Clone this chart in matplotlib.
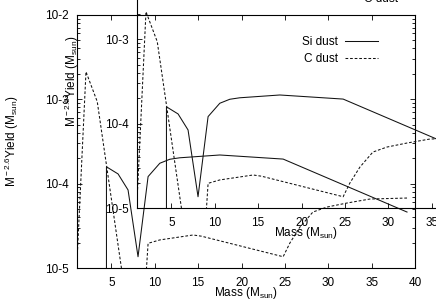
import matplotlib
matplotlib.use("Agg")
import matplotlib.pyplot as plt
from matplotlib.ticker import LogLocator, NullFormatter

# Si dust (solid)
si_mass = [4.43, 4.43, 5.77, 6.92, 8.07, 9.23, 10.58, 11.73, 12.88, 17.50, 20.58, 24.80, 39.08]
si_yield = [1e-7, 1.58e-4, 1.30e-4, 8.4e-5, 1.36e-5, 1.21e-4, 1.74e-4, 1.94e-4,
            2.02e-4, 2.18e-4, 2.08e-4, 1.95e-4, 4.6e-5]

# C dust (dashed)
c_mass = [1.0, 2.07, 3.37, 4.43, 5.77, 6.92, 8.07, 9.23, 10.58, 14.42, 15.39,
          24.80, 25.58, 26.73, 28.23, 29.85, 32.15, 34.81, 39.08]
c_yield = [1.0e-5, 2.11e-3, 9.33e-4, 1.66e-4, 1.87e-5, 2.9e-6, 2.8e-7, 1.96e-5, 2.15e-5,
           2.46e-5, 2.38e-5, 1.36e-5, 1.98e-5, 3.05e-5, 4.60e-5, 5.27e-5, 5.88e-5,
           6.56e-5, 6.74e-5]

xticks = [5, 10, 15, 20, 25, 30, 35, 40]
yticks = [1e-5, 1e-4, 1e-3, 1e-2]
ytick_labels = ["10-5", "10-4", "10-3", "10-2"]

plt.rcParams["font.family"] = "Liberation Sans"
plt.rcParams["mathtext.fontset"] = "custom"
plt.rcParams["mathtext.rm"] = "Liberation Sans"
plt.rcParams["mathtext.it"] = "Liberation Sans:italic"
plt.rcParams["mathtext.bf"] = "Liberation Sans:bold"

W, H = 436, 305
fs = 8.5
fig = plt.figure(figsize=(W / 100, H / 100), dpi=100)


def panel(ax):
    ax.plot(si_mass, si_yield, color="#111111", lw=0.75, label="Si dust")
    ax.plot(c_mass, c_yield, color="#111111", lw=0.75, ls=(0, (2.6, 1.8)), label="C dust")
    ax.set_yscale("log")
    ax.set_xlim(1, 40)
    ax.set_ylim(1e-5, 1e-2)
    ax.set_xticks(xticks)
    ax.set_xticklabels([str(t) for t in xticks])
    ax.set_yticks(yticks)
    ax.set_yticklabels(ytick_labels)
    ax.yaxis.set_minor_locator(LogLocator(base=10, subs=range(2, 10)))
    ax.yaxis.set_minor_formatter(NullFormatter())
    ax.tick_params(which="both", direction="in", top=True, right=True, width=0.6,
                   labelsize=fs)
    ax.tick_params(which="major", length=3.6)
    ax.tick_params(which="minor", length=2.0)
    ax.tick_params(axis="x", pad=6.5)
    ax.tick_params(axis="y", pad=6.0)
    for s in ax.spines.values():
        s.set_linewidth(0.8)
    ax.set_xlabel(r"Mass (M$_{\rm sun}$)", fontsize=fs)
    ax.set_ylabel(r"M$^{\rm -2.6}$Yield (M$_{\rm sun}$)", fontsize=fs)
    ax.xaxis.set_label_coords(0.5, -0.067)
    ax.yaxis.set_label_coords(-0.166, 0.5)
    ax.legend(loc="upper right", bbox_to_anchor=(0.8906, 0.914), frameon=False,
              markerfirst=False, handlelength=2.8, handletextpad=0.6,
              labelspacing=0.38, borderpad=0, borderaxespad=0, fontsize=fs)
    ax.patch.set_visible(False)


left, bottom = 76.7, 268
w, h = 338.3, 253.3
shift = 60
ax1 = fig.add_axes([left / W, 1 - bottom / H, w / W, h / H])
ax2 = fig.add_axes([(left + shift) / W, 1 - (bottom - shift) / H, w / W, h / H])
panel(ax1)
panel(ax2)

fig.savefig("out.png", dpi=100)
